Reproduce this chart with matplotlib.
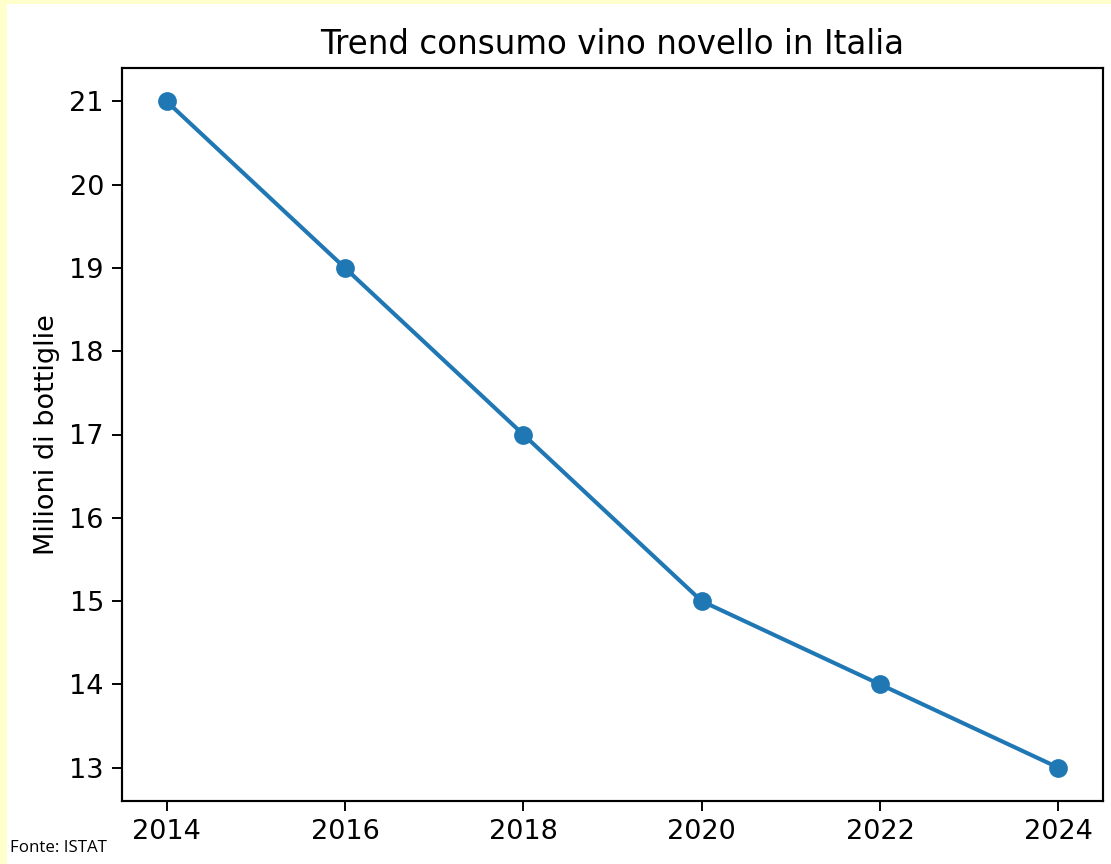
import matplotlib.pyplot as plt
from matplotlib.patches import Rectangle

# data
anni = [2014, 2016, 2018, 2020, 2022, 2024]
bottiglie = [21, 19, 17, 15, 14, 13]

plt.rcParams['font.size'] = 11.3
plt.rcParams['axes.linewidth'] = 0.9
plt.rcParams['xtick.major.size'] = 4
plt.rcParams['ytick.major.size'] = 4

dpi = 173
fig = plt.figure(figsize=(1111 / dpi, 864 / dpi), dpi=dpi)
fig.patch.set_facecolor('#ffffcc')
# white panel inside the yellow frame
fig.patches.append(Rectangle((7 / 1111, 0), 1, 1 - 4 / 864, transform=fig.transFigure,
                             facecolor='white', edgecolor='none', zorder=-5))

ax = fig.add_axes([122 / 1111, 63 / 864, (1103 - 122) / 1111, (801 - 68) / 864])
ax.plot(anni, bottiglie, marker='o', linewidth=1.7, markersize=6.8)
ax.set_title('Trend consumo vino novello in Italia')
ax.set_ylabel('Milioni di bottiglie')

fig.text(10 / 1111, 1 - 848 / 864, 'Fonte: ISTAT', fontsize=7, family='Open Sans', va='center')

fig.savefig('out.png', dpi=dpi)
